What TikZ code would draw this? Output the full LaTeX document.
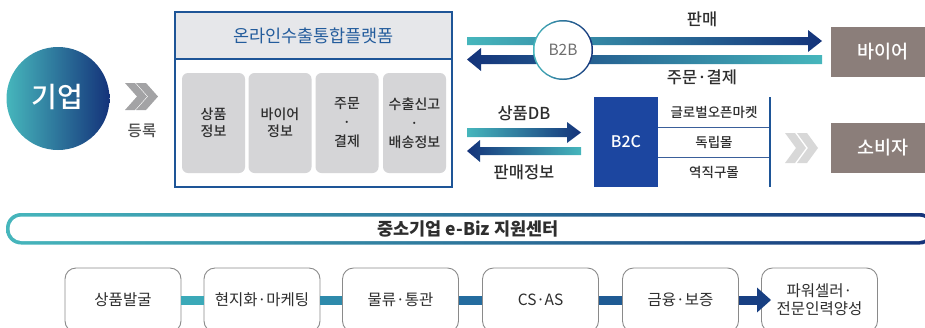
\documentclass[tikz,border=0pt]{standalone}
\usepackage{fontspec}
\setmainfont{Noto Sans CJK KR}
\newfontfamily\krm{Noto Sans CJK KR Medium}
\usetikzlibrary{arrows.meta,calc}
\definecolor{cTeal}{HTML}{46B6BC}
\definecolor{cNavy}{HTML}{14337A}
\definecolor{cDark}{HTML}{2E2E2E}
\definecolor{cFrame}{HTML}{1E5597}
\definecolor{cTitleBg}{HTML}{E6E7EA}
\definecolor{cTitle}{HTML}{235C9C}
\definecolor{cInner}{HTML}{D5D5D7}
\definecolor{cBrown}{HTML}{8B7E7A}
\definecolor{cB2C}{HTML}{1C46A0}
\definecolor{cChev}{HTML}{A3A3A5}
\definecolor{cChevL}{HTML}{D8D8D8}
\definecolor{cGrayB}{HTML}{8A8A8A}
\definecolor{cB2B}{HTML}{6E6E6E}
\definecolor{cLine}{HTML}{3A5F9A}
\definecolor{kA}{HTML}{3BA9B8}
\definecolor{kB}{HTML}{2E8AAB}
\definecolor{kC}{HTML}{246C9F}
\definecolor{kD}{HTML}{1F5B94}
\definecolor{kE}{HTML}{183F82}
\begin{document}
\begin{tikzpicture}[x=1pt,y=-1pt,
  every node/.style={inner sep=0pt},
  lbl/.style={font=\krm\fontsize{16.5}{19}\selectfont, text=cDark},
  inbox/.style={fill=cInner, rounded corners=6pt, minimum width=63pt, minimum height=100pt, align=center, font=\krm\fontsize{14}{19}\selectfont, text=cDark},
  brownbox/.style={fill=cBrown, minimum width=104pt, minimum height=50pt, text=white, font=\krm\fontsize{18.5}{20}\selectfont},
  rowtxt/.style={font=\krm\fontsize{13.5}{16}\selectfont, text=cDark},
  bbox/.style={draw=cGrayB, line width=0.9pt, fill=white, rounded corners=11pt, minimum width=116pt, minimum height=64pt, align=center, font=\fontsize{15.5}{24}\selectfont, text=cDark},
  link/.style={line width=9pt}
]
\useasboundingbox (0,0) rectangle (925,327);

% company circle
\shade[left color=cTeal, right color=cNavy] (58,98.5) circle (51.5);
\node[text=white, font=\krm\fontsize{28}{30}\selectfont] (corp) at (57,97) {기업};

% chevrons
\foreach \dx in {0,11}{
  \fill[cChev] (125+\dx,83) -- (135+\dx,83) -- (147+\dx,96.5) -- (135+\dx,110) -- (125+\dx,110) -- (137+\dx,96.5) -- cycle;
}
\node[font=\krm\fontsize{15.5}{17}\selectfont, text=cDark!85] (reg) at (142,131) {등록};

% platform
\draw[cFrame, line width=2.5pt, fill=white] (175,12) rectangle (452,187);
\draw[cFrame, line width=2.5pt, fill=cTitleBg] (175,12) rectangle (452,59);
\node[font=\fontsize{17.5}{19}\selectfont, text=cTitle] (title) at (313.5,36) {온라인수출통합플랫폼};
\node[inbox] (i1) at (213.5,123) {상품\\[-2pt]정보};
\node[inbox] (i2) at (280,123) {바이어\\[-2pt]정보};
\node[inbox] (i3) at (347,123) {주문\\·\\결제};
\node[inbox] (i4) at (414.5,123) {수출신고\\·\\배송정보};

% B2B arrows
\shade[left color=cTeal, right color=cNavy] (467,37) -- (808,37) -- (808,30) -- (822,41) -- (808,52) -- (808,45) -- (467,45) -- cycle;
\shade[left color=cNavy, right color=cTeal] (467,59.5) -- (481,48) -- (481,55) -- (822,55) -- (822,64) -- (481,64) -- (481,71) -- cycle;
\shade[left color=cTeal, right color=cNavy] (563,50) circle (30);
\fill[white] (563,50) circle (28.5);
\node[font=\fontsize{15.5}{17}\selectfont, text=cB2B] (b2b) at (563,50) {B2B};
\node[lbl] (sell) at (702,19) {판매};
\node[lbl] (order) at (702,77) {주문·결제};

% buyers / consumers
\node[brownbox] (buyer) at (883,52) {바이어};
\node[brownbox] (cons) at (883,148) {소비자};

% B2C arrows
\shade[left color=cTeal, right color=cNavy] (467,128) -- (567,128) -- (567,122) -- (581,132.5) -- (567,143) -- (567,137) -- (467,137) -- cycle;
\shade[left color=cNavy, right color=cTeal] (467,151) -- (480,140) -- (480,147) -- (581,147) -- (581,155) -- (480,155) -- (480,162) -- cycle;
\node[lbl] (db) at (524,113) {상품DB};
\node[lbl] (sinfo) at (524,172) {판매정보};

% B2C block
\node[fill=cB2C, minimum width=64pt, minimum height=90pt, text=white, font=\krm\fontsize{16}{17}\selectfont] (b2c) at (626,142) {B2C};
\node[rowtxt] (r1) at (714,112) {글로벌오픈마켓};
\node[rowtxt] (r2) at (714,142) {독립몰};
\node[rowtxt] (r3) at (714,172) {역직구몰};
\draw[cLine, line width=1pt] (b2c.east |- 0,127) -- (770,127);
\draw[cLine, line width=1pt] (b2c.east |- 0,157.5) -- (770,157.5);
\draw[cFrame, line width=2.5pt] (770,97) -- (770,187);

% light chevrons
\foreach \dx in {0,12}{
  \fill[cChevL] (785+\dx,133) -- (795+\dx,133) -- (806+\dx,148) -- (795+\dx,163) -- (785+\dx,163) -- (796+\dx,148) -- cycle;
}

% e-Biz bar
\shade[left color=cTeal, right color=cNavy, rounded corners=15pt] (6,213) rectangle (935,244.5);
\fill[white, rounded corners=12pt] (9.5,216.5) rectangle (931,241);
\node[font=\fontsize{17.5}{19}\selectfont\bfseries, text=cDark] (ebiz) at (468,228.5) {중소기업 e-Biz 지원센터};

% bottom process
\node[bbox] (p1) at (123,300) {상품발굴};
\node[bbox] (p2) at (262,300) {현지화·마케팅};
\node[bbox] (p3) at (400.5,300) {물류·통관};
\node[bbox] (p4) at (540.5,300) {CS·AS};
\node[bbox] (p5) at (680.5,300) {금융·보증};
\node[bbox] (p6) at (819.5,300) {파워셀러·\\[-6pt]전문인력양성};
\draw[link, kA] (p1.east) -- (p2.west);
\draw[link, kB] (p2.east) -- (p3.west);
\draw[link, kC] (p3.east) -- (p4.west);
\draw[link, kD] (p4.east) -- (p5.west);
\draw[link, kE, -{Triangle[length=14pt, width=24pt]}, shorten >=-10pt] (p5.east) -- (p6.west);
\end{tikzpicture}
\end{document}
